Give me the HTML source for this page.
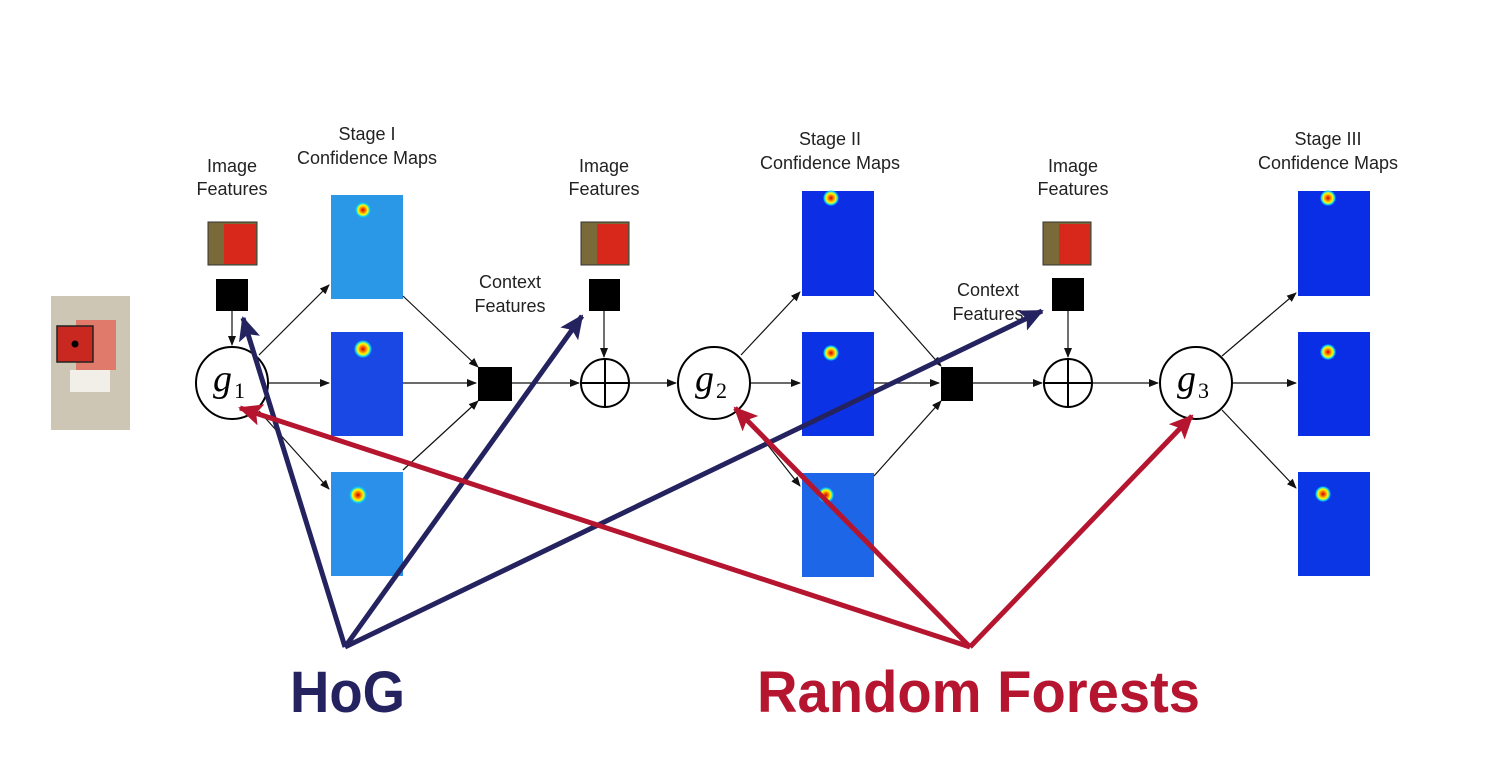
<!DOCTYPE html>
<html><head><style>body{margin:0;background:#fff}svg{display:block}</style></head>
<body>
<svg width="1491" height="782" viewBox="0 0 1491 782" xmlns="http://www.w3.org/2000/svg" font-family="Liberation Sans, sans-serif">
<defs>
<marker id="a" markerWidth="10" markerHeight="8" refX="9" refY="4" orient="auto" markerUnits="userSpaceOnUse"><path d="M0,0 L10,4 L0,8 z" fill="#111"/></marker>
<marker id="n" markerWidth="24" markerHeight="22" refX="22" refY="11" orient="auto" markerUnits="userSpaceOnUse"><path d="M0,0 L24,11 L0,22 L5,11 z" fill="#25235f"/></marker>
<marker id="r" markerWidth="24" markerHeight="22" refX="22" refY="11" orient="auto" markerUnits="userSpaceOnUse"><path d="M0,0 L24,11 L0,22 L5,11 z" fill="#b5152f"/></marker>
<radialGradient id="hot"><stop offset="0" stop-color="#c00"/><stop offset="0.35" stop-color="#f80"/><stop offset="0.6" stop-color="#ff0"/><stop offset="0.85" stop-color="#0cf"/><stop offset="1" stop-color="#0cf" stop-opacity="0"/></radialGradient>
</defs>
<rect x="51" y="296" width="79" height="134" fill="#cdc6b4"/>
<rect x="76" y="320" width="40" height="50" fill="#e07a6a"/>
<rect x="70" y="370" width="40" height="22" fill="#f2efe8"/>
<rect x="57" y="326" width="36" height="36" fill="#c8281f" stroke="#222" stroke-width="1.5"/>
<circle cx="75" cy="344" r="3.5" fill="#000"/>
<g font-size="18" fill="#222" text-anchor="middle">
<text x="232" y="172">Image</text><text x="232" y="195">Features</text>
<text x="604" y="172">Image</text><text x="604" y="195">Features</text>
<text x="1073" y="172">Image</text><text x="1073" y="195">Features</text>
<text x="367" y="140">Stage I</text><text x="367" y="164">Confidence Maps</text>
<text x="830" y="145">Stage II</text><text x="830" y="169">Confidence Maps</text>
<text x="1328" y="145">Stage III</text><text x="1328" y="169">Confidence Maps</text>
<text x="510" y="288">Context</text><text x="510" y="312">Features</text>
<text x="988" y="296">Context</text><text x="988" y="320">Features</text>
</g>
<g stroke="#333" stroke-width="1">
<rect x="208" y="222" width="49" height="43" fill="#7a6a3a"/><rect x="581" y="222" width="48" height="43" fill="#7a6a3a"/><rect x="1043" y="222" width="48" height="43" fill="#7a6a3a"/>
</g>
<rect x="224" y="224" width="32" height="40" fill="#d8281c"/><rect x="597" y="224" width="31" height="40" fill="#d8281c"/><rect x="1059" y="224" width="31" height="40" fill="#d8281c"/>
<g fill="#000"><rect x="216" y="279" width="32" height="32"/><rect x="589" y="279" width="31" height="32"/><rect x="1052" y="278" width="32" height="33"/>
<rect x="478" y="367" width="34" height="34"/><rect x="941" y="367" width="32" height="34"/></g>
<rect x="331" y="195" width="72" height="104" fill="#2a98e6"/>
<rect x="331" y="332" width="72" height="104" fill="#1a48e4"/>
<rect x="331" y="472" width="72" height="104" fill="#2a90ea"/>
<rect x="802" y="191" width="72" height="105" fill="#0c2fe6"/>
<rect x="802" y="332" width="72" height="104" fill="#0c32e6"/>
<rect x="802" y="473" width="72" height="104" fill="#1e66e8"/>
<rect x="1298" y="191" width="72" height="105" fill="#0a2de6"/>
<rect x="1298" y="332" width="72" height="104" fill="#0a2de6"/>
<rect x="1298" y="472" width="72" height="104" fill="#0a36e6"/>
<g fill="url(#hot)"><circle cx="363" cy="210" r="8"/><circle cx="363" cy="349" r="9"/><circle cx="358" cy="495" r="9"/><circle cx="831" cy="198" r="8"/><circle cx="831" cy="353" r="8"/><circle cx="826" cy="495" r="8"/><circle cx="1328" cy="198" r="8"/><circle cx="1328" cy="352" r="8"/><circle cx="1323" cy="494" r="8"/></g>
<g stroke="#111" stroke-width="1.2" fill="none" marker-end="url(#a)">
<line x1="232" y1="311" x2="232" y2="345"/><line x1="604" y1="311" x2="604" y2="357"/><line x1="1068" y1="311" x2="1068" y2="357"/>
<line x1="259" y1="355" x2="329" y2="285"/><line x1="268" y1="383" x2="329" y2="383"/><line x1="259" y1="411" x2="329" y2="489"/>
<line x1="403" y1="296" x2="478" y2="367"/><line x1="403" y1="383" x2="476" y2="383"/><line x1="403" y1="470" x2="478" y2="401"/>
<line x1="512" y1="383" x2="579" y2="383"/><line x1="629" y1="383" x2="676" y2="383"/>
<line x1="741" y1="355" x2="800" y2="292"/><line x1="750" y1="383" x2="800" y2="383"/><line x1="741" y1="411" x2="800" y2="486"/>
<line x1="874" y1="290" x2="941" y2="366"/><line x1="874" y1="383" x2="939" y2="383"/><line x1="874" y1="476" x2="941" y2="401"/>
<line x1="973" y1="383" x2="1042" y2="383"/><line x1="1092" y1="383" x2="1158" y2="383"/>
<line x1="1222" y1="356" x2="1296" y2="293"/><line x1="1232" y1="383" x2="1296" y2="383"/><line x1="1222" y1="410" x2="1296" y2="488"/>
</g>
<g stroke="#000" stroke-width="2" fill="#fff">
<circle cx="232" cy="383" r="36"/><circle cx="714" cy="383" r="36"/><circle cx="1196" cy="383" r="36"/>
<circle cx="605" cy="383" r="24"/><circle cx="1068" cy="383" r="24"/>
</g>
<g stroke="#000" stroke-width="2"><line x1="581" y1="383" x2="629" y2="383"/><line x1="605" y1="359" x2="605" y2="407"/><line x1="1044" y1="383" x2="1092" y2="383"/><line x1="1068" y1="359" x2="1068" y2="407"/></g>
<g font-family="Liberation Serif, serif" font-style="italic" font-size="38" fill="#000">
<text x="213" y="391">g</text><text x="695" y="391">g</text><text x="1177" y="391">g</text></g>
<g font-family="Liberation Serif, serif" font-size="22" fill="#000">
<text x="234" y="398">1</text><text x="716" y="398">2</text><text x="1198" y="398">3</text></g>
<g stroke="#25235f" stroke-width="5" fill="none">
<line x1="345" y1="647" x2="243" y2="318" marker-end="url(#n)"/>
<line x1="345" y1="647" x2="582" y2="316" marker-end="url(#n)"/>
<line x1="345" y1="647" x2="1042" y2="311" marker-end="url(#n)"/>
</g>
<g stroke="#b5152f" stroke-width="5" fill="none">
<line x1="970" y1="647" x2="240" y2="408" marker-end="url(#r)"/>
<line x1="970" y1="647" x2="735" y2="408" marker-end="url(#r)"/>
<line x1="970" y1="647" x2="1192" y2="416" marker-end="url(#r)"/>
</g>
<text x="290" y="712" font-size="58" font-weight="bold" fill="#25235f" textLength="115" lengthAdjust="spacingAndGlyphs">HoG</text>
<text x="757" y="712" font-size="58" font-weight="bold" fill="#b5152f" textLength="443" lengthAdjust="spacingAndGlyphs">Random Forests</text>
</svg>
</body></html>
